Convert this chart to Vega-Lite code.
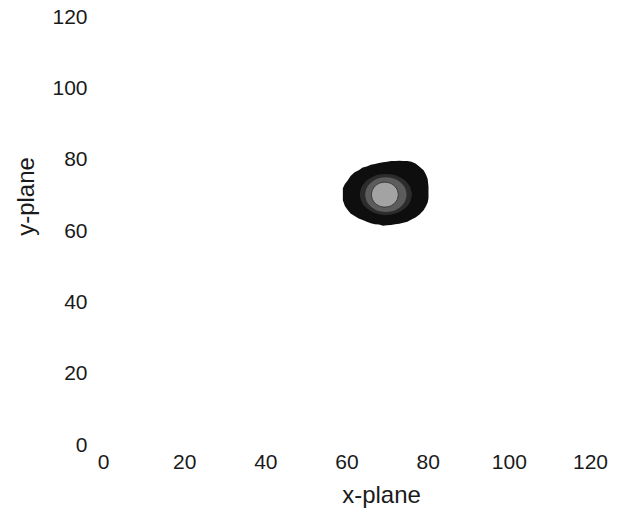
{
  "$schema": "https://vega.github.io/schema/vega-lite/v6.json",
  "width": 487,
  "height": 428,
  "autosize": {"type": "none"},
  "padding": {"left": 103, "top": 17, "right": 36, "bottom": 63},
  "background": "white",
  "config": {"view": {"stroke": null}, "font": "Liberation Sans"},
  "data": {
    "values": [
      {"ring": "o", "x": 59.1, "top": 72.0, "bottom": 68.6},
      {"ring": "o", "x": 59.6, "top": 73.2, "bottom": 67.0},
      {"ring": "o", "x": 60.2, "top": 74.0, "bottom": 66.0},
      {"ring": "o", "x": 61.0, "top": 75.4, "bottom": 64.9},
      {"ring": "o", "x": 62.0, "top": 76.5, "bottom": 64.2},
      {"ring": "o", "x": 63.0, "top": 77.0, "bottom": 63.5},
      {"ring": "o", "x": 64.0, "top": 77.8, "bottom": 63.1},
      {"ring": "o", "x": 65.0, "top": 78.1, "bottom": 62.6},
      {"ring": "o", "x": 66.0, "top": 78.6, "bottom": 62.2},
      {"ring": "o", "x": 67.0, "top": 78.8, "bottom": 61.9},
      {"ring": "o", "x": 68.0, "top": 79.1, "bottom": 61.8},
      {"ring": "o", "x": 69.0, "top": 79.3, "bottom": 61.5},
      {"ring": "o", "x": 70.0, "top": 79.4, "bottom": 61.6},
      {"ring": "o", "x": 71.0, "top": 79.6, "bottom": 61.7},
      {"ring": "o", "x": 72.0, "top": 79.6, "bottom": 61.9},
      {"ring": "o", "x": 73.0, "top": 79.7, "bottom": 62.0},
      {"ring": "o", "x": 74.0, "top": 79.6, "bottom": 62.3},
      {"ring": "o", "x": 75.0, "top": 79.6, "bottom": 62.6},
      {"ring": "o", "x": 76.0, "top": 79.4, "bottom": 63.2},
      {"ring": "o", "x": 77.0, "top": 78.9, "bottom": 63.8},
      {"ring": "o", "x": 78.0, "top": 78.0, "bottom": 64.6},
      {"ring": "o", "x": 79.0, "top": 77.0, "bottom": 65.8},
      {"ring": "o", "x": 79.6, "top": 75.8, "bottom": 67.0},
      {"ring": "o", "x": 80.0, "top": 74.6, "bottom": 68.0},
      {"ring": "o", "x": 80.2, "top": 72.5, "bottom": 69.2},

      {"ring": "d", "x": 63.3, "top": 70.55, "bottom": 69.95},
      {"ring": "d", "x": 63.62, "top": 72.04, "bottom": 68.46},
      {"ring": "d", "x": 63.94, "top": 72.76, "bottom": 67.74},
      {"ring": "d", "x": 64.58, "top": 73.7, "bottom": 66.8},
      {"ring": "d", "x": 65.22, "top": 74.36, "bottom": 66.14},
      {"ring": "d", "x": 66.5, "top": 75.23, "bottom": 65.27},
      {"ring": "d", "x": 67.78, "top": 75.74, "bottom": 64.76},
      {"ring": "d", "x": 69.7, "top": 76.0, "bottom": 64.5},
      {"ring": "d", "x": 71.62, "top": 75.74, "bottom": 64.76},
      {"ring": "d", "x": 72.9, "top": 75.23, "bottom": 65.27},
      {"ring": "d", "x": 74.18, "top": 74.36, "bottom": 66.14},
      {"ring": "d", "x": 74.82, "top": 73.7, "bottom": 66.8},
      {"ring": "d", "x": 75.46, "top": 72.76, "bottom": 67.74},
      {"ring": "d", "x": 75.78, "top": 72.04, "bottom": 68.46},
      {"ring": "d", "x": 76.1, "top": 70.55, "bottom": 69.95},

      {"ring": "m", "x": 64.6, "top": 70.45, "bottom": 69.95},
      {"ring": "m", "x": 64.855, "top": 71.73, "bottom": 68.67},
      {"ring": "m", "x": 65.11, "top": 72.34, "bottom": 68.06},
      {"ring": "m", "x": 65.62, "top": 73.14, "bottom": 67.26},
      {"ring": "m", "x": 66.13, "top": 73.7, "bottom": 66.7},
      {"ring": "m", "x": 67.15, "top": 74.44, "bottom": 65.96},
      {"ring": "m", "x": 68.17, "top": 74.87, "bottom": 65.53},
      {"ring": "m", "x": 69.7, "top": 75.1, "bottom": 65.3},
      {"ring": "m", "x": 71.23, "top": 74.87, "bottom": 65.53},
      {"ring": "m", "x": 72.25, "top": 74.44, "bottom": 65.96},
      {"ring": "m", "x": 73.27, "top": 73.7, "bottom": 66.7},
      {"ring": "m", "x": 73.78, "top": 73.14, "bottom": 67.26},
      {"ring": "m", "x": 74.29, "top": 72.34, "bottom": 68.06},
      {"ring": "m", "x": 74.545, "top": 71.73, "bottom": 68.67},
      {"ring": "m", "x": 74.8, "top": 70.45, "bottom": 69.95},

      {"ring": "i", "x": 66.15, "top": 70.4, "bottom": 70.0},
      {"ring": "i", "x": 66.315, "top": 71.29, "bottom": 69.11},
      {"ring": "i", "x": 66.48, "top": 71.73, "bottom": 68.67},
      {"ring": "i", "x": 66.81, "top": 72.3, "bottom": 68.1},
      {"ring": "i", "x": 67.14, "top": 72.7, "bottom": 67.7},
      {"ring": "i", "x": 67.8, "top": 73.23, "bottom": 67.17},
      {"ring": "i", "x": 68.46, "top": 73.54, "bottom": 66.86},
      {"ring": "i", "x": 69.45, "top": 73.7, "bottom": 66.7},
      {"ring": "i", "x": 70.44, "top": 73.54, "bottom": 66.86},
      {"ring": "i", "x": 71.1, "top": 73.23, "bottom": 67.17},
      {"ring": "i", "x": 71.76, "top": 72.7, "bottom": 67.7},
      {"ring": "i", "x": 72.09, "top": 72.3, "bottom": 68.1},
      {"ring": "i", "x": 72.42, "top": 71.73, "bottom": 68.67},
      {"ring": "i", "x": 72.585, "top": 71.29, "bottom": 69.11},
      {"ring": "i", "x": 72.75, "top": 70.4, "bottom": 70.0}
    ]
  },
  "encoding": {
    "x": {
      "field": "x",
      "type": "quantitative",
      "scale": {"domain": [0, 120], "nice": false, "zero": false},
      "axis": {
        "title": "x-plane",
        "values": [0, 20, 40, 60, 80, 100, 120],
        "domain": false,
        "ticks": false,
        "grid": false,
        "labelFlush": false,
        "labelOverlap": false,
        "labelBound": false,
        "labelFont": "Liberation Sans",
        "labelFontSize": 21,
        "labelColor": "#1a1a1a",
        "labelPadding": 6,
        "titleFont": "Liberation Sans",
        "titleFontSize": 24,
        "titleFontWeight": "normal",
        "titleColor": "#1a1a1a",
        "titleX": 278,
        "titleY": 57,
        "titleBaseline": "alphabetic",
        "titleAlign": "center"
      }
    },
    "y": {
      "field": "top",
      "type": "quantitative",
      "scale": {"domain": [0, 120], "nice": false, "zero": false},
      "axis": {
        "title": "y-plane",
        "values": [0, 20, 40, 60, 80, 100, 120],
        "domain": false,
        "ticks": false,
        "grid": false,
        "labelFlush": false,
        "labelOverlap": false,
        "labelBound": false,
        "labelFont": "Liberation Sans",
        "labelFontSize": 21,
        "labelColor": "#1a1a1a",
        "labelPadding": 16,
        "titleFont": "Liberation Sans",
        "titleFontSize": 24,
        "titleFontWeight": "normal",
        "titleColor": "#1a1a1a",
        "titleAngle": 270,
        "titleX": -70,
        "titleY": 179,
        "titleBaseline": "alphabetic",
        "titleAlign": "center"
      }
    },
    "y2": {"field": "bottom"}
  },
  "layer": [
    {"transform": [{"filter": "datum.ring === 'o'"}], "mark": {"type": "area", "color": "#0e0e0e", "interpolate": "linear"}},
    {"transform": [{"filter": "datum.ring === 'd'"}], "mark": {"type": "area", "color": "#2c2c2c", "interpolate": "monotone"}},
    {"transform": [{"filter": "datum.ring === 'm'"}], "mark": {"type": "area", "color": "#5c5c5c", "interpolate": "monotone"}},
    {"transform": [{"filter": "datum.ring === 'i'"}], "mark": {"type": "area", "color": "#a3a3a3", "stroke": "#3a3a3a", "strokeWidth": 1, "interpolate": "monotone"}}
  ]
}
